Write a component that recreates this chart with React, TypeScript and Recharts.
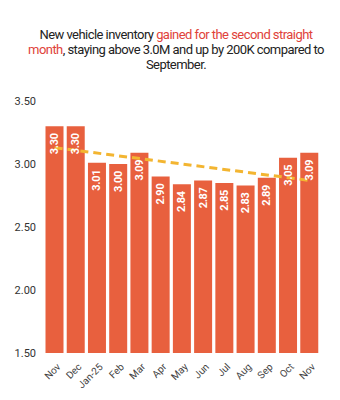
import { Bar, Line, XAxis, YAxis, LabelList, ComposedChart } from 'recharts'

const months = ['Nov', 'Dec', 'Jan-25', 'Feb', 'Mar', 'Apr', 'May', 'Jun', 'Jul', 'Aug', 'Sep', 'Oct', 'Nov']
const inventory = [3.30, 3.30, 3.01, 3.00, 3.09, 2.90, 2.84, 2.87, 2.85, 2.83, 2.89, 3.05, 3.09]
const trend: (number | null)[] = [3.13, null, null, null, null, null, null, null, null, null, null, null, 2.87]
const yTicks = [1.5, 2.0, 2.5, 3.0, 3.5]

const BAR_COLOR = '#e8603e'
const TREND_COLOR = '#f3b531'
const FONT = 'Roboto, "Noto Sans", sans-serif'

const data = months.map((m, i) => ({ month: m, value: inventory[i], trend: trend[i] }))

function XTick(props: any) {
  const { x, y, payload } = props
  return (
    <text
      transform={`translate(${x + 4},${y + 4}) rotate(-45)`}
      textAnchor="end"
      dominantBaseline="central"
      fontSize={10}
      fill="#444"
      fontFamily={FONT}
    >
      {payload.value}
    </text>
  )
}

function BarLabel(props: any) {
  const { x, y, width, value } = props
  const cx = x + width / 2
  const ty = y + 7
  return (
    <text
      transform={`translate(${cx},${ty}) rotate(-90)`}
      textAnchor="end"
      dominantBaseline="central"
      fontSize={11}
      fontWeight="bold"
      letterSpacing={-0.3}
      fill="#fff"
      fontFamily={FONT}
    >
      {value.toFixed(2)}
    </text>
  )
}

export default function App() {
  return (
    <div style={{ position: 'absolute', left: 0, top: 0, width: 340, height: 400, background: '#fff', fontFamily: FONT }}>
      <div style={{ position: 'absolute', top: 27, left: 0, width: 352, textAlign: 'center', fontSize: 13, letterSpacing: -0.55, lineHeight: '15px', color: '#222', whiteSpace: 'nowrap' }}>
        New vehicle inventory <span style={{ color: '#e0423a' }}>gained for the second straight</span>
        <br />
        <span style={{ color: '#e0423a' }}>month</span>, staying above 3.0M and up by 200K compared to
        <br />
        September.
      </div>
      <div style={{ position: 'absolute', left: 0, top: 0 }}>
        <ComposedChart width={340} height={400} data={data} margin={{ top: 101, right: 20, bottom: 0, left: 0 }} barCategoryGap={1.5}>
          <XAxis dataKey="month" axisLine={false} tickLine={false} interval={0} height={47} tick={<XTick />} />
          <YAxis
            domain={[1.5, 3.5]}
            ticks={yTicks}
            width={44}
            axisLine={false}
            tickLine={false}
            tickFormatter={(v: number) => v.toFixed(2)}
            tick={{ fontSize: 11, fill: '#333', fontFamily: FONT }}
          />
          <Bar dataKey="value" fill={BAR_COLOR} isAnimationActive={false}>
            <LabelList dataKey="value" content={<BarLabel />} />
          </Bar>
          <Line
            dataKey="trend"
            connectNulls
            stroke={TREND_COLOR}
            strokeWidth={3}
            strokeDasharray="8 5"
            dot={false}
            isAnimationActive={false}
          />
        </ComposedChart>
      </div>
    </div>
  )
}
